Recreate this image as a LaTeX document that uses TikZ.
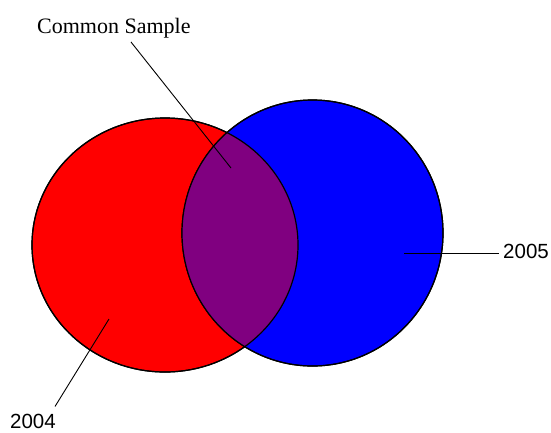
\documentclass[tikz,border=0pt]{standalone}
\usepackage{fontspec}
\setmainfont{Liberation Serif}
\newfontfamily\yearfont{Liberation Sans}
\usetikzlibrary{shapes.geometric}
\definecolor{vennred}{RGB}{255,0,0}
\definecolor{vennblue}{RGB}{0,0,255}
\definecolor{vennpurple}{RGB}{128,0,128}
\tikzset{
  venn-set/.style={ellipse, draw=black, line width=1.2pt, inner sep=0pt},
  venn-outline/.style={draw=black, line width=1.2pt},
  venn-caption/.style={inner sep=4pt, font=\fontsize{22}{26}\selectfont},
  venn-year/.style={inner sep=4pt, font=\yearfont\fontsize{20.5}{24}\selectfont},
  venn-pointer/.style={draw=black, line width=0.9pt}
}

\begin{document}
\begin{tikzpicture}[x=1pt, y=-1pt]
  \useasboundingbox (0,0) rectangle (551,432);
  % the two samples
  \node[venn-set, fill=vennred, minimum width=266pt, minimum height=254pt] (s2004) at (165,245) {};
  \node[venn-set, fill=vennblue, minimum width=261pt, minimum height=266pt] (s2005) at (312.5,233) {};
  % overlap
  \begin{scope}
    \clip (s2004.center) ellipse [x radius=133, y radius=127];
    \fill[vennpurple] (s2005.center) ellipse [x radius=130.5, y radius=133];
  \end{scope}
  \path[venn-outline] (s2004.center) ellipse [x radius=133, y radius=127];
  \path[venn-outline] (s2005.center) ellipse [x radius=130.5, y radius=133];
  % labels
  \node[venn-caption, anchor=base west] (common) at (33,33) {Common Sample};
  \node[venn-year, anchor=base west] (y2005) at (499,258) {2005};
  \node[venn-year, inner sep=1pt, anchor=base west] (y2004) at (9,428) {2004};
  \coordinate (common-tip) at (231,168);
  \coordinate (tip2005) at (404,253);
  \coordinate (tip2004) at (109,319);
  \draw[venn-pointer] ([xshift=17pt]common.south) -- (common-tip);
  \draw[venn-pointer] (tip2005) -- (tip2005 -| y2005.west);
  \draw[venn-pointer] ([xshift=-2pt, yshift=6pt]y2004.north east) -- (tip2004);
\end{tikzpicture}
\end{document}
